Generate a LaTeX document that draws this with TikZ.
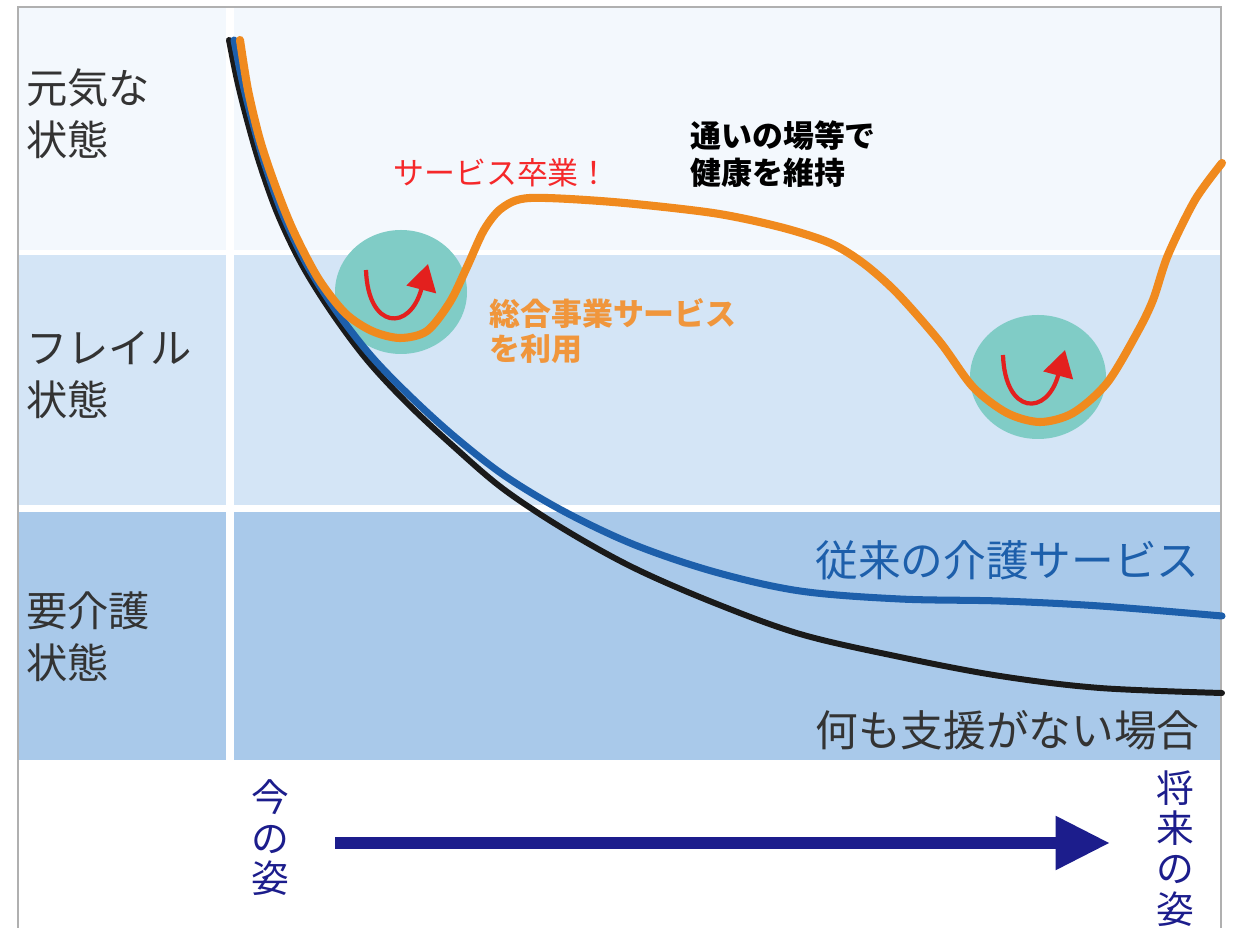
\documentclass[tikz,border=0pt]{standalone}
\usepackage{fontspec}
\setmainfont{Noto Sans CJK JP}
\usetikzlibrary{arrows.meta}
\definecolor{bandA}{HTML}{F3F8FD}
\definecolor{bandB}{HTML}{D4E5F6}
\definecolor{bandC}{HTML}{A9C9EA}
\definecolor{lblC}{HTML}{333333}
\definecolor{orangeC}{HTML}{F08A1E}
\definecolor{orangeT}{HTML}{F0963C}
\definecolor{blueC}{HTML}{1D5FAB}
\definecolor{blackC}{HTML}{1A1A1A}
\definecolor{tealC}{HTML}{80CCC6}
\definecolor{redC}{HTML}{E3201E}
\definecolor{redT}{HTML}{F5282A}
\definecolor{navyC}{HTML}{1C1D8C}
\definecolor{frameC}{HTML}{B0B0B0}
\begin{document}
\begin{tikzpicture}[x=0.02cm,y=-0.02cm,
  rowlabel/.style={anchor=west,inner sep=0pt,text=lblC,font=\fontsize{23.5}{29.5}\selectfont,align=left},
  curvelabel/.style={anchor=west,inner sep=0pt,font=\fontsize{24.3}{29}\selectfont},
  smalllabel/.style={anchor=west,inner sep=0pt,font=\fontsize{17.6}{21}\selectfont,align=left},
  vlabel/.style={inner sep=0pt,text=navyC,font=\fontsize{21.5}{23}\selectfont,align=center},
  curvestyle/.style={line cap=round,line join=round},
  ring/.style={fill=tealC,draw=none},
  uturn/.style={draw=redC,line width=2.4pt,-{Triangle[length=15pt,width=17pt]}}
]
\useasboundingbox (0,0) rectangle (1235,928);
\clip (0,0) rectangle (1235,928);
\fill[white] (0,0) rectangle (1235,928);
% bands
\fill[bandA] (18,7) rectangle (226,250);
\fill[bandA] (234,7) rectangle (1221,250);
\fill[bandB] (18,255) rectangle (226,505);
\fill[bandB] (234,255) rectangle (1221,505);
\fill[bandC] (18,512) rectangle (226,760);
\fill[bandC] (234,512) rectangle (1221,760);
% frame
\draw[frameC,line width=1pt] (18,928) -- (18,7) -- (1221,7) -- (1221,928);
% row labels
\node[rowlabel] (genki) at (26,114) {元気な\\状態};
\node[rowlabel] (frail) at (26,375) {フレイル\\状態};
\node[rowlabel] (care) at (26,637) {要介護\\状態};
% circles
\fill[ring] (401,292) ellipse [x radius=66, y radius=62];
\fill[ring] (1038,377) ellipse [x radius=68, y radius=62];
% black curve
\draw[blackC,line width=3.4pt,curvestyle] plot[smooth,tension=0.55] coordinates {
 (229,40) (237,80) (247,120) (260,165) (278,215) (302,265) (332,313) (367,360) (407,403) (452,445) (502,488) (562,528) (632,567) (712,602) (800,634) (900,657) (1000,676) (1100,688) (1222,693)};
% blue curve
\draw[blueC,line width=4pt,curvestyle] plot[smooth,tension=0.55] coordinates {
 (234,40) (242,80) (252,120) (265,165) (283,215) (307,265) (337,312) (372,357) (412,398) (455,437) (505,476) (565,512) (635,545) (715,572) (800,591) (900,599) (1000,601) (1100,606) (1222,616)};
% orange curve
\draw[orangeC,line width=4.6pt,curvestyle] plot[smooth,tension=0.5] coordinates {
 (240,40) (248,90) (260,140) (275,185) (293,230) (318,278) (345,313) (372,331) (400,338) (427,331) (450,302) (467,267) (484,230) (502,208) (530,198) (613,202) (713,213) (780,227) (830,243) (863,263) (897,293) (940,342) (973,387) (1007,413) (1040,422) (1073,413) (1107,383) (1137,333) (1153,300) (1168,255) (1195,200) (1222,163)};
% red u-turn arrows
\draw[uturn] (366,270) .. controls (368,330) and (410,332) .. (428,264);
\draw[uturn] (1003,355) .. controls (1005,415) and (1047,417) .. (1065,350);
% annotations
\node[smalllabel,text=redT] (grad) at (393,173) {サービス卒業！};
\node[smalllabel,text=black,font=\fontsize{17.6}{21}\selectfont\bfseries] (keep) at (690,154) {通いの場等で\\健康を維持};
\node[smalllabel,text=orangeT,font=\fontsize{17.6}{20}\selectfont\bfseries] (sogo) at (489,331) {総合事業サービス\\を利用};
\node[curvelabel,text=blueC] (trad) at (815,560) {従来の介護サービス};
\node[curvelabel,text=lblC] (none) at (815,730) {何も支援がない場合};
% time axis
\node[vlabel] (now) at (270,838) {今\\の\\姿};
\node[vlabel,anchor=north] (future) at (1175,770) {将\\来\\の\\姿};
\draw[navyC,line width=6.8pt,-{Triangle[length=31pt,width=29pt]}] (335,843) -- (1110,843);
\end{tikzpicture}
\end{document}
